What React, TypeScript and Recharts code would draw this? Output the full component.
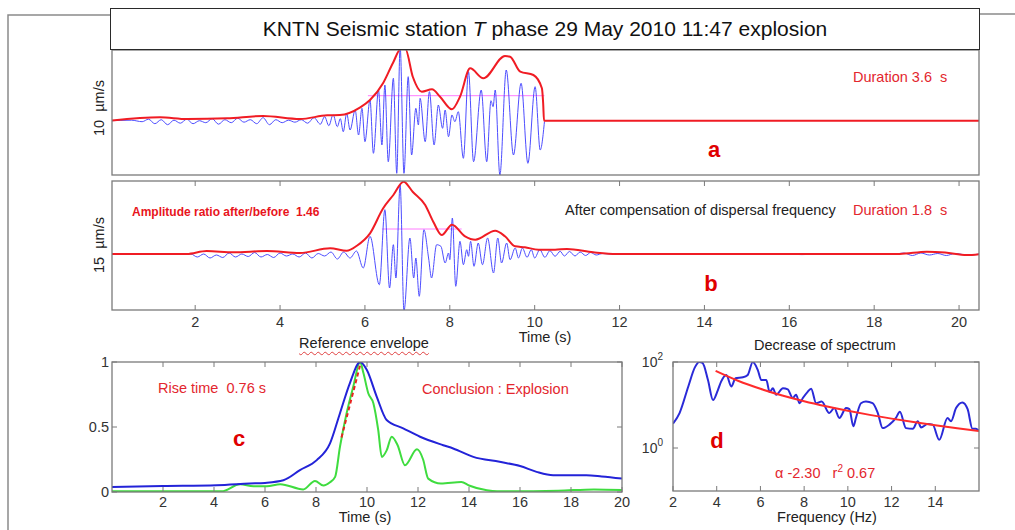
import React from 'react';
import { LineChart, Line, XAxis, YAxis } from 'recharts';

const FONT = '"Liberation Sans", Arial, Helvetica, sans-serif';
const AX = '#7a7a7a';
const RED_TXT = '#e3262e';

// ---------- Panel a (raw T phase, arbitrary units 10 µm/s) ----------
const aWaveT = [0, 0.5, 0.75, 0.9, 1.05, 1.2, 1.35, 1.5, 1.65, 1.8, 1.95, 2.1, 2.25, 2.4, 2.55, 2.7, 2.85, 3.0, 3.15, 3.3, 3.45, 3.6, 3.75, 3.9, 4.05, 4.2, 4.35, 4.5, 4.65, 4.8, 4.95, 5.05, 5.15, 5.25, 5.35,
  5.42, 5.49, 5.57, 5.65, 5.77, 5.85, 5.93, 6.0, 6.12, 6.2, 6.32, 6.4, 6.47, 6.55, 6.67, 6.75, 6.83, 6.92, 7.02, 7.1, 7.2, 7.26, 7.3, 7.42, 7.52, 7.63, 7.73, 7.83, 7.89, 7.97, 8.05, 8.12, 8.2, 8.32, 8.44, 8.56, 8.74, 8.87, 8.97, 9.02, 9.07, 9.18, 9.33, 9.5, 9.68, 9.84, 10.01, 10.13, 10.23];
const aWaveV = [0, 0.5, -1, 1.5, -3, 1, -4, 0.5, -2.5, 1.5, -3, 0, -2, 2, -3.5, 1, -2, 2.5, -1.5, 1, -3, 3, -4, 1, -2, 0.5, -1.5, 1, -2.5, 3, -3.5, 4, -5, 6, -6,
  2, -11, 7.4, -9.3, 10.7, -14.3, 12.4, -21, 20.7, -32.6, 30.7, -24.3, 35.7, -41, 42.4, -52.6, 74, -52.6, 44, -34.3, 12.4, -4.3, 22.4, -21, 29, -24.3, 15.7, -7.6, 10.7, -16, 5.7, -1, 9, -37.6, 49, -41, 30.7, -41, 20, 14, 30.7, -54.3, 50.7, -34.3, 37.4, -42.6, 34, -29.3, -1];
const aEnvT = [0, 1.17, 1.81, 2.75, 3.6, 4.47, 5.11, 5.41, 5.89, 6.12, 6.43, 6.66, 6.85, 6.95, 7.13, 7.34, 7.58, 7.77, 8.05, 8.24, 8.48, 8.79, 9.3, 9.42, 9.66, 9.97, 10.17, 10.2, 10.22, 20.5];
const aEnvV = [0, 3.4, 1.7, 2.4, 4.7, 1.7, 5.4, 5.7, 13.4, 20.7, 37.7, 57.7, 72, 72, 43.7, 29, 31.4, 24, 11.4, 24, 52.4, 42.4, 64.7, 64, 49, 45.7, 32.4, 17.4, 0, 0];
const aMidT = [6.07, 10.23];
const aMidV = [25, 25];

// ---------- Panel b (after compensation, 15 µm/s) ----------
const bWaveT = [0, 1.9, 2.05, 2.2, 2.35, 2.5, 2.65, 2.8, 2.95, 3.1, 3.25, 3.4, 3.55, 3.7, 3.85, 4.0, 4.15, 4.3, 4.45, 4.6, 4.75, 4.9, 5.05, 5.2, 5.35, 5.5, 5.65, 5.8, 5.96, 6.12,
  6.34, 6.47, 6.58, 6.67, 6.73, 6.83, 6.92, 7.06, 7.15, 7.2, 7.28, 7.39, 7.5, 7.57, 7.69, 7.79, 7.89, 7.97, 8.0, 8.06, 8.14, 8.24, 8.32, 8.4, 8.44, 8.49, 8.57, 8.67, 8.77, 8.89,
  9.03, 9.13, 9.22, 9.34, 9.42, 9.54, 9.62, 9.71, 9.82, 9.92, 10.0, 10.12, 10.24, 10.36, 10.48, 10.6, 10.7, 10.82, 10.95, 11.07, 11.2, 11.32, 11.45, 11.6, 11.8, 12.5, 13.2, 14.0, 14.8, 15.5,
  16.3, 17.0, 17.8, 18.5, 18.7, 18.9, 19.1, 19.3, 19.5, 19.7, 19.9, 20.2, 20.5];
const bWaveV = [0, 0, -3, 0, -4, -1, -3.5, 1, -3, 0, -2.5, 1.5, -3, -0.5, -3.5, 1, -2, 0, -3, 1, -4, 0.5, -2, 2, -5, 2, -4, 3, -14, 17.7,
  -30.7, 44.3, -34, 9.3, -24, 69.3, -57, 16, -24, -4, -42.3, 24.3, -4, -24, 9.3, 7.7, -9, 1, -5.7, 36, -32.3, 12.7, -10.7, 4.3, -2.3, 12.7, -12.3, 11, -10.7, 16,
  -19, 16, -9, 11, -5.7, 6, -4, 6, -3.3, 4.3, -4, 4.3, -3.3, 3.3, -2.3, 2.7, -2, 2.5, -2, 2, -1.5, 1.5, -1, 0.5, 0, 0, -0.5, 0.3, -0.5, 0.3,
  -0.6, 0.2, -0.5, 0, 1, -1.5, 1, -1, 0.5, -1.5, 0.5, -1, 0];
const bEnvT = [0, 1.8, 2.27, 2.9, 3.69, 4.47, 5.18, 5.57, 5.81, 6.12, 6.43, 6.67, 6.91, 7.13, 7.42, 7.61, 7.81, 8.05, 8.36, 8.6, 9.07, 9.3, 9.54, 9.77, 10.09, 10.48, 10.76, 11.38, 11.93, 18.6, 19.24, 19.67, 20.18, 20.5];
const bEnvV = [0, 0, 3, 1.7, 3, 1, 5.7, 3.3, 8.3, 20.7, 45.7, 59, 72.3, 62, 49, 32.3, 19, 29.3, 17.7, 14.3, 23.3, 17.7, 7.7, 6.7, 4.3, 4.3, 5, 1.7, 0, 0, 2.3, 1.5, -1, 0];
const bMidT = [6.4, 8.28];
const bMidV = [25, 25];
const timeTicks = [2, 4, 6, 8, 10, 12, 14, 16, 18, 20];

// ---------- Panel c (reference envelope) ----------
const cBlueT = [0, 2, 4.1, 5.4, 6, 6.72, 7.37, 8.03, 8.55, 8.94, 9.33, 9.73, 9.99, 10.38, 10.77, 11.42, 12.08, 12.99, 13.38, 14.17, 15.2, 16.0, 16.65, 17.3, 18.6, 19.2, 20];
const cBlueV = [0.039, 0.046, 0.052, 0.065, 0.07, 0.09, 0.168, 0.245, 0.374, 0.606, 0.838, 1.0, 0.94, 0.734, 0.554, 0.49, 0.425, 0.36, 0.335, 0.27, 0.232, 0.2, 0.155, 0.129, 0.129, 0.12, 0.103];
const cGreenT = [0, 4.3, 5.02, 5.55, 6.07, 6.6, 7.5, 7.96, 8.29, 8.55, 8.75, 8.94, 9.2, 9.46, 9.73, 9.86, 10.05, 10.25, 10.44, 10.58, 10.77, 10.97, 11.2, 11.49, 11.96, 12.2, 12.4, 12.9, 13.7, 14.0, 14.7, 15.1, 17.5, 18.9, 20];
const cGreenV = [0.005, 0.005, 0.06, 0.045, 0.045, 0.06, 0.02, 0.085, 0.05, 0.075, 0.116, 0.348, 0.606, 0.81, 1.0, 0.915, 0.76, 0.683, 0.477, 0.27, 0.32, 0.425, 0.36, 0.206, 0.328, 0.25, 0.103, 0.065, 0.077, 0.05, 0.013, 0.005, 0.01, 0.02, 0.015];
const cRiseT = [9.0, 9.75];
const cRiseV = [0.42, 0.99];
const cYTicks = [0, 0.5, 1];

// ---------- Panel d (spectrum) ----------
const dBlueF = [2, 2.3, 2.7, 3.0, 3.2, 3.35, 3.6, 3.83, 4.05, 4.2, 4.44, 4.67, 4.86, 5.2, 5.42, 5.65, 5.88, 6.04, 6.27, 6.42, 6.57, 6.72, 7.03, 7.25, 7.48, 7.63, 7.79, 7.94, 8.15, 8.32, 8.55, 8.8, 9.15, 9.38, 9.61, 9.92, 10.07, 10.25, 10.37, 10.6, 10.83, 11.13, 11.37, 11.59, 11.9, 12.2, 12.38, 12.66, 12.97, 13.2, 13.35, 13.65, 13.88, 14.18, 14.56, 14.72, 14.95, 15.24, 15.48, 15.7, 15.86, 16];
const dBlueV = [3.7, 6.5, 27, 75, 100, 95, 38, 13, 22, 35, 50, 27, 42, 44, 50, 100, 65, 38, 38, 20, 24.5, 17.4, 24.5, 23, 14.5, 17.4, 11, 14.5, 20, 24, 11, 12, 6.5, 8.5, 5, 8.5, 8, 3.2, 5, 11, 12, 11, 6.5, 2.9, 3.5, 5, 7, 2.9, 2.8, 4.2, 3, 3.6, 3.5, 1.55, 5, 4.2, 8.5, 11.5, 8, 2.8, 2.8, 2.5];
const dFitF = [3.95, 5, 6, 7, 8, 9, 10, 11, 12, 13, 14, 15, 16];
const dFitV = [62, 36.1, 23.8, 16.6, 12.2, 9.33, 7.33, 5.89, 4.82, 4.01, 3.38, 2.88, 2.49];
const freqTicks = [2, 4, 6, 8, 10, 12, 14];
const dYTicks = [1, 100];
const dYExp = ['0', '2'];

const zip = (ts: number[], vs: number[]) => ts.map((t, i) => ({ t, v: vs[i] }));

const xTick = (top: number, bottom: number, labelY: number, showTop = true) => (p: any) => (
  <g>
    <line x1={p.x} x2={p.x} y1={bottom} y2={bottom - 5} stroke={AX} strokeWidth={1} />
    {showTop && <line x1={p.x} x2={p.x} y1={top} y2={top + 5} stroke={AX} strokeWidth={1} />}
    <text x={p.x} y={labelY} textAnchor="middle" fontSize={14.5} fill="#333" fontFamily={FONT}>{p.payload.value}</text>
  </g>
);

const cYTick = (p: any) => (
  <g>
    <line x1={112} x2={117} y1={p.y} y2={p.y} stroke={AX} strokeWidth={1} />
    <line x1={622} x2={617} y1={p.y} y2={p.y} stroke={AX} strokeWidth={1} />
    <text x={109} y={p.y + 5} textAnchor="end" fontSize={14.5} fill="#333" fontFamily={FONT}>{p.payload.value}</text>
  </g>
);

const dYTick = (p: any) => {
  const idx = dYTicks.indexOf(p.payload.value);
  return (
    <g>
      <line x1={673} x2={678} y1={p.y} y2={p.y} stroke={AX} strokeWidth={1} />
      <line x1={979} x2={974} y1={p.y} y2={p.y} stroke={AX} strokeWidth={1} />
      <text x={663} y={p.y + 5} textAnchor="end" fontSize={14} fill="#333" fontFamily={FONT}>
        10<tspan dy={-7} fontSize={10}>{dYExp[idx]}</tspan>
      </text>
    </g>
  );
};

const abs: React.CSSProperties = { position: 'absolute', left: 0, top: 0 };

const Label = ({ x, y, children, size = 14.5, color = '#222', weight = 400, anchor = 'start', rotate = 0, style = {} }: any) => (
  <div
    style={{
      position: 'absolute',
      left: x,
      top: y,
      transform: `translate(${anchor === 'middle' ? '-50%' : anchor === 'end' ? '-100%' : '0'}, -50%) rotate(${rotate}deg)`,
      fontSize: size,
      color,
      fontWeight: weight,
      fontFamily: FONT,
      whiteSpace: 'pre',
      lineHeight: 1,
      ...style,
    }}
  >
    {children}
  </div>
);

export default function App() {
  return (
    <div style={{ position: 'relative', width: 1015, height: 530, overflow: 'hidden', background: '#fff', fontFamily: FONT }}>
      <style>{'body{margin:0}'}</style>

      {/* Panel a */}
      <div style={abs}>
        <LineChart width={1015} height={530} margin={{ top: 50, right: 36, bottom: 355, left: 112 }}>
          <XAxis hide type="number" dataKey="t" domain={[0.04, 20.47]} allowDataOverflow />
          <YAxis hide type="number" domain={[-54.3, 70.7]} allowDataOverflow />
          <Line data={zip(aMidT, aMidV)} dataKey="v" stroke="#ff7cff" strokeWidth={1} dot={false} isAnimationActive={false} />
          <Line data={zip(aWaveT, aWaveV)} dataKey="v" type="monotone" stroke="#4d4dff" strokeWidth={1} dot={false} isAnimationActive={false} />
          <Line data={zip(aEnvT, aEnvV)} dataKey="v" type="monotone" stroke="#f01c24" strokeWidth={2} dot={false} isAnimationActive={false} />
        </LineChart>
      </div>

      {/* Panel b */}
      <div style={abs}>
        <LineChart width={1015} height={530} margin={{ top: 181, right: 36, bottom: 190, left: 112 }}>
          <XAxis type="number" dataKey="t" domain={[0.04, 20.47]} allowDataOverflow ticks={timeTicks} interval={0} height={30}
            axisLine={false} tickLine={false} tick={xTick(181, 310, 327)} />
          <YAxis hide type="number" domain={[-56, 73]} allowDataOverflow />
          <Line data={zip(bMidT, bMidV)} dataKey="v" stroke="#ff7cff" strokeWidth={1} dot={false} isAnimationActive={false} />
          <Line data={zip(bWaveT, bWaveV)} dataKey="v" type="monotone" stroke="#4d4dff" strokeWidth={1} dot={false} isAnimationActive={false} />
          <Line data={zip(bEnvT, bEnvV)} dataKey="v" type="monotone" stroke="#f01c24" strokeWidth={2} dot={false} isAnimationActive={false} />
        </LineChart>
      </div>

      {/* Panel c */}
      <div style={abs}>
        <LineChart width={1015} height={530} margin={{ top: 362, right: 393, bottom: 8, left: 72 }}>
          <XAxis type="number" dataKey="t" domain={[0, 20]} allowDataOverflow ticks={timeTicks} interval={0} height={30}
            axisLine={false} tickLine={false} tick={xTick(362, 492, 507)} />
          <YAxis type="number" domain={[0, 1]} allowDataOverflow ticks={cYTicks} interval={0} width={40}
            axisLine={false} tickLine={false} tick={cYTick} />
          <Line data={zip(cGreenT, cGreenV)} dataKey="v" type="monotone" stroke="#3fdc3f" strokeWidth={2} dot={false} isAnimationActive={false} />
          <Line data={zip(cBlueT, cBlueV)} dataKey="v" type="monotone" stroke="#2323d8" strokeWidth={2} dot={false} isAnimationActive={false} />
          <Line data={zip(cRiseT, cRiseV)} dataKey="v" stroke="#e8231f" strokeWidth={2} strokeDasharray="4 3" dot={false} isAnimationActive={false} />
        </LineChart>
      </div>

      {/* Panel d */}
      <div style={abs}>
        <LineChart width={1015} height={530} margin={{ top: 362, right: 36, bottom: 9, left: 633 }}>
          <XAxis type="number" dataKey="t" domain={[2, 16]} allowDataOverflow ticks={freqTicks} interval={0} height={30}
            axisLine={false} tickLine={false} tick={xTick(362, 491, 507)} />
          <YAxis type="number" scale="log" domain={[0.1, 100]} allowDataOverflow ticks={dYTicks} interval={0} width={40}
            axisLine={false} tickLine={false} tick={dYTick} />
          <Line data={zip(dBlueF, dBlueV)} dataKey="v" type="monotone" stroke="#2a2ad8" strokeWidth={2} dot={false} isAnimationActive={false} />
          <Line data={zip(dFitF, dFitV)} dataKey="v" type="monotone" stroke="#ff2b2b" strokeWidth={2} dot={false} isAnimationActive={false} />
        </LineChart>
      </div>

      {/* frames */}
      <svg width={1015} height={530} style={{ ...abs, pointerEvents: 'none' }}>
        <path d="M8 530 L8 15 L112 15 M979 14 L1015 14" stroke="#8a8a8a" strokeWidth={1.5} fill="none" />
        <rect x={112} y={50} width={867} height={125} fill="none" stroke={AX} strokeWidth={1.3} />
        <rect x={112} y={181} width={867} height={129} fill="none" stroke={AX} strokeWidth={1.3} />
        <rect x={112} y={362} width={510} height={130} fill="none" stroke={AX} strokeWidth={1.3} />
        <rect x={673} y={362} width={306} height={129} fill="none" stroke={AX} strokeWidth={1.3} />
      </svg>

      {/* title */}
      <div
        style={{
          position: 'absolute', left: 110, top: 8, width: 870, height: 42, boxSizing: 'border-box',
          border: '1.5px solid #2a2a2a', background: '#fff', display: 'flex', alignItems: 'center', justifyContent: 'center',
          fontSize: 21, color: '#111', fontFamily: FONT, whiteSpace: 'pre',
        }}
      >
        KNTN Seismic station <i>T</i> phase 29 May 2010 11:47 explosion
      </div>

      {/* panel a texts */}
      <Label x={99} y={108} anchor="middle" rotate={-90}>{'10  µm/s'}</Label>
      <Label x={853} y={77} color={RED_TXT}>{'Duration 3.6  s'}</Label>
      <Label x={714} y={150} anchor="middle" size={22} weight={700} color="#e00000">a</Label>

      {/* panel b texts */}
      <Label x={99} y={245} anchor="middle" rotate={-90}>{'15  µm/s'}</Label>
      <Label x={132} y={212} size={12} weight={700} color="#e8141c">{'Amplitude ratio after/before  1.46'}</Label>
      <Label x={565} y={210}>{'After compensation of dispersal frequency'}</Label>
      <Label x={853} y={210} color={RED_TXT}>{'Duration 1.8  s'}</Label>
      <Label x={711} y={284} anchor="middle" size={22} weight={700} color="#e00000">b</Label>
      <Label x={545} y={337} anchor="middle">{'Time (s)'}</Label>

      {/* panel c texts */}
      <Label x={364} y={343} anchor="middle" style={{ textDecoration: 'underline wavy #e04040', textDecorationThickness: '1px', textUnderlineOffset: '3px' }}>
        {'Reference envelope'}
      </Label>
      <Label x={158} y={388} color={RED_TXT}>{'Rise time  0.76 s'}</Label>
      <Label x={239} y={439} anchor="middle" size={22} weight={700} color="#e00000">c</Label>
      <Label x={422} y={389} color={RED_TXT}>{'Conclusion : Explosion'}</Label>
      <Label x={365} y={517} anchor="middle">{'Time (s)'}</Label>

      {/* panel d texts */}
      <Label x={825} y={345} anchor="middle">{'Decrease of spectrum'}</Label>
      <Label x={717} y={441} anchor="middle" size={22} weight={700} color="#e00000">d</Label>
      <Label x={775} y={473} color={RED_TXT}>
        {'α -2.30   r'}<sup style={{ fontSize: 10, verticalAlign: 'super', lineHeight: 0 }}>2</sup>{' 0.67'}
      </Label>
      <Label x={827} y={517} anchor="middle">{'Frequency (Hz)'}</Label>
    </div>
  );
}
